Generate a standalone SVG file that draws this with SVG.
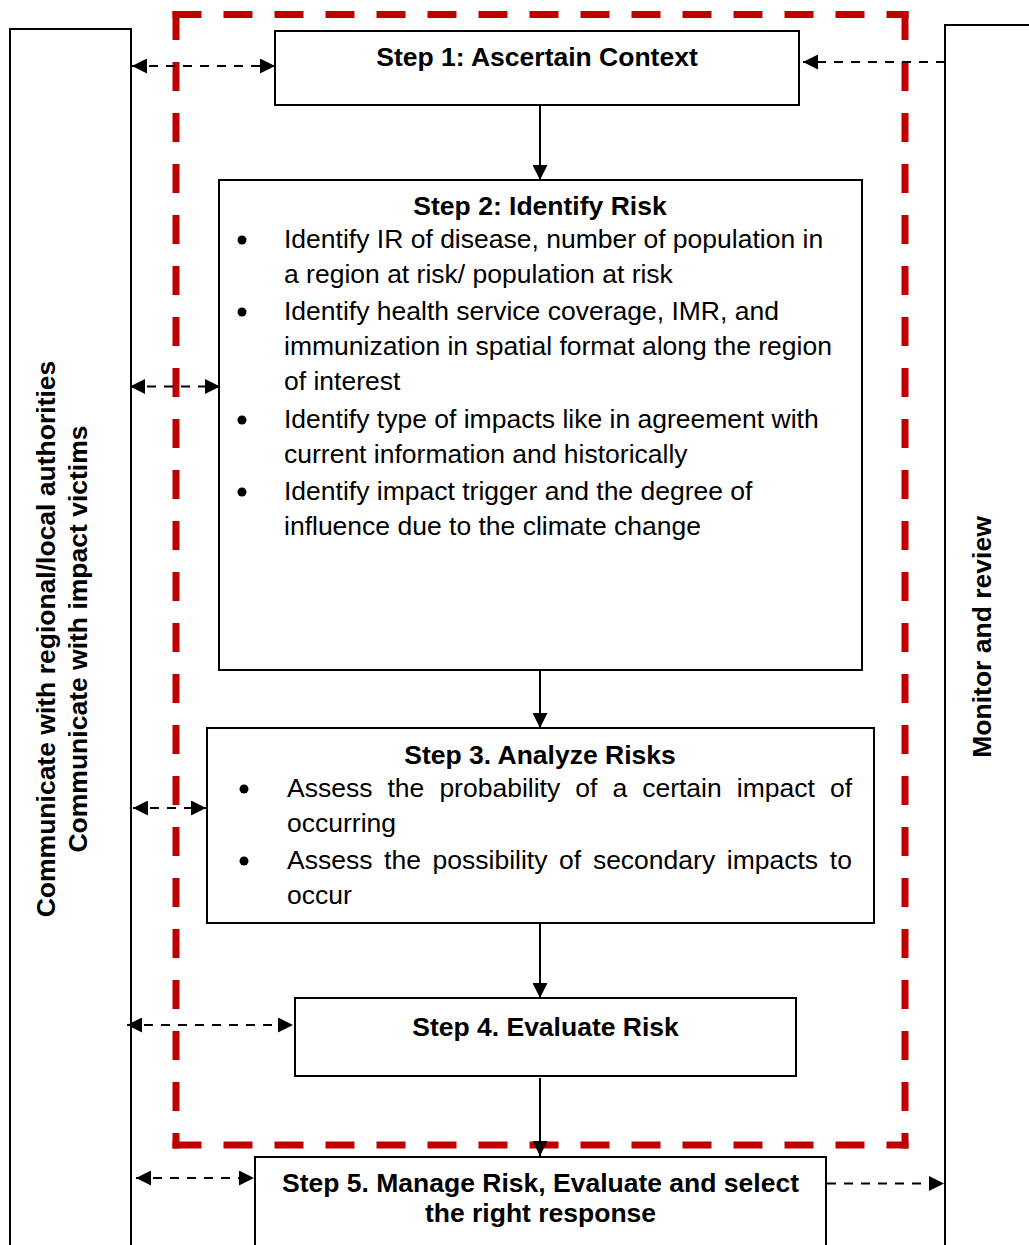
<svg xmlns="http://www.w3.org/2000/svg" width="1029" height="1245" viewBox="0 0 1029 1245">
  <style>
    .box { fill: #ffffff; stroke: #000000; stroke-width: 2; }
    .frame { fill: none; stroke: #000000; stroke-width: 2; }
    .red { fill: none; stroke: #C00000; stroke-width: 7; stroke-dasharray: 22 29; stroke-linecap: square; }
    .solid { fill: none; stroke: #000000; stroke-width: 2; marker-end: url(#ah); }
    .dash { fill: none; stroke: #000000; stroke-width: 2.2; stroke-dasharray: 9 8; }
    .t { font-family: "Liberation Sans", Arial, sans-serif; font-size: 26.5px; fill: #000000; }
    .b { font-weight: bold; }
    .c { text-anchor: middle; }
  </style>
  <defs>
    <marker id="ah" viewBox="0 0 15 15" refX="15" refY="7.5" markerWidth="15" markerHeight="15" markerUnits="userSpaceOnUse" orient="auto-start-reverse">
      <path d="M0,0 L15,7.5 L0,15 z" fill="#000000"/>
    </marker>
  </defs>
  <rect width="1029" height="1245" fill="#ffffff"/>

  <g id="red-boundary">
    <line class="red" x1="176" y1="14.5" x2="905" y2="14.5"/>
    <line class="red" x1="176" y1="14.5" x2="176" y2="1145"/>
    <line class="red" x1="176" y1="1145" x2="905" y2="1145"/>
    <line class="red" x1="905" y1="14.5" x2="905" y2="1145"/>
  </g>

  <g id="communicate">
    <path class="frame" d="M10,1250 L10,29 L131,29 L131,1250"/>
    <text class="t b c" transform="translate(55,639) rotate(-90)">Communicate with regional/local authorities</text>
    <text class="t b c" transform="translate(87,639) rotate(-90)">Communicate with impact victims</text>
  </g>

  <g id="monitor">
    <path class="frame" d="M945,1250 L945,25 L1035,25"/>
    <text class="t b c" transform="translate(991,637) rotate(-90)">Monitor and review</text>
  </g>

  <g id="step1">
    <rect class="box" x="275" y="31" width="524" height="74"/>
    <text class="t b c" x="537" y="66">Step 1: Ascertain Context</text>
  </g>

  <g id="step2">
    <rect class="box" x="219" y="180" width="643" height="490"/>
    <text class="t b c" x="540" y="215">Step 2: Identify Risk</text>
    <circle cx="242" cy="240" r="4.5"/>
    <circle cx="242" cy="312" r="4.5"/>
    <circle cx="242" cy="420" r="4.5"/>
    <circle cx="242" cy="492" r="4.5"/>
    <text class="t" x="284" y="248">Identify IR of disease, number of population in</text>
    <text class="t" x="284" y="283">a region at risk/ population at risk</text>
    <text class="t" x="284" y="320">Identify health service coverage, IMR, and</text>
    <text class="t" x="284" y="355">immunization in spatial format along the region</text>
    <text class="t" x="284" y="390">of interest</text>
    <text class="t" x="284" y="428">Identify type of impacts like in agreement with</text>
    <text class="t" x="284" y="463">current information and historically</text>
    <text class="t" x="284" y="500">Identify impact trigger and the degree of</text>
    <text class="t" x="284" y="535">influence due to the climate change</text>
  </g>

  <g id="step3">
    <rect class="box" x="207" y="728" width="667" height="195"/>
    <text class="t b c" x="540" y="764">Step 3. Analyze Risks</text>
    <circle cx="244" cy="789" r="4.5"/>
    <circle cx="244" cy="861" r="4.5"/>
    <text class="t" x="287" y="797" word-spacing="7.7">Assess the probability of a certain impact of</text>
    <text class="t" x="287" y="832">occurring</text>
    <text class="t" x="287" y="869" word-spacing="4.3">Assess the possibility of secondary impacts to</text>
    <text class="t" x="287" y="904">occur</text>
  </g>

  <g id="step4">
    <rect class="box" x="295" y="998" width="501" height="78"/>
    <text class="t b c" x="545.5" y="1036">Step 4. Evaluate Risk</text>
  </g>

  <g id="step5">
    <rect class="box" x="255" y="1157" width="571" height="100"/>
    <text class="t b c" x="540.5" y="1192">Step 5. Manage Risk, Evaluate and select</text>
    <text class="t b c" x="540.5" y="1222">the right response</text>
  </g>

  <g id="connectors">
    <line class="solid" x1="540" y1="105" x2="540" y2="180"/>
    <line class="solid" x1="540" y1="670" x2="540" y2="728"/>
    <line class="solid" x1="540" y1="923" x2="540" y2="998"/>
    <line class="solid" x1="540" y1="1078" x2="540" y2="1156"/>

    <line class="dash" x1="132" y1="66" x2="275" y2="66" marker-start="url(#ah)" marker-end="url(#ah)"/>
    <line class="dash" x1="945" y1="62" x2="803" y2="62" marker-end="url(#ah)"/>
    <line class="dash" x1="130" y1="386.5" x2="220" y2="386.5" marker-start="url(#ah)" marker-end="url(#ah)"/>
    <line class="dash" x1="133" y1="808" x2="206" y2="808" marker-start="url(#ah)" marker-end="url(#ah)"/>
    <line class="dash" x1="127" y1="1025" x2="293" y2="1025" marker-start="url(#ah)" marker-end="url(#ah)"/>
    <line class="dash" x1="136" y1="1178" x2="254" y2="1178" marker-start="url(#ah)" marker-end="url(#ah)"/>
    <line class="dash" x1="827" y1="1183.5" x2="944" y2="1183.5" marker-end="url(#ah)"/>
  </g>
</svg>
